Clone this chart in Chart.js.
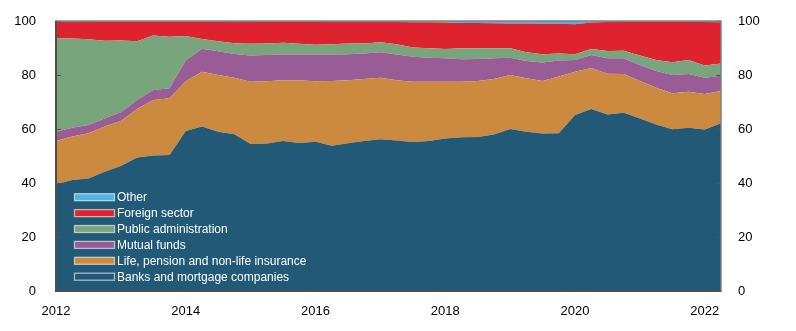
<!DOCTYPE html>
<html>
<head>
<meta charset="utf-8">
<script src="https://cdn.jsdelivr.net/npm/chart.js@4"></script>
<style>
  html, body { margin: 0; padding: 0; background: #fff; }
  #wrap { width: 796px; height: 331px; }
</style>
</head>
<body>
<div id="wrap"><canvas id="chartEierskap"></canvas></div>
<script>
// Quarterly observations, 2012 Q1 – 2022 Q2 (per cent of total)
const quarters = [];
for (let y = 2012; y <= 2022; y++) {
    for (let q = 0; q < 4; q++) {
        if (y === 2022 && q > 1) break;
        quarters.push(y + q * 0.25);
    }
}
const xTickYears = [2012, 2014, 2016, 2018, 2020, 2022];
const yTickValues = [0, 20, 40, 60, 80, 100];

const banks = [39.5, 41.1, 41.7, 44.2, 46.3, 49.4, 50.2, 50.4, 59.3, 60.9,
    59.0, 58.1, 54.4, 54.6, 55.6, 54.8, 55.3, 53.8, 54.7, 55.6,
    56.2, 55.7, 55.2, 55.6, 56.5, 56.9, 57.0, 58.0, 60.0, 59.0,
    58.3, 58.4, 65.2, 67.4, 65.4, 66.0, 63.9, 61.7, 59.9, 60.5,
    59.8, 62.1];
const insurance = [16.1, 16.1, 16.7, 16.7, 16.7, 18.0, 20.5, 21.0, 18.4, 20.3,
    21.0, 20.9, 23.1, 23.1, 22.5, 23.3, 22.4, 24.0, 23.4, 22.9,
    22.8, 22.4, 22.3, 21.9, 21.0, 20.6, 20.8, 20.5, 20.0, 19.8,
    19.5, 21.0, 16.0, 15.2, 15.1, 14.4, 13.9, 13.6, 13.3, 13.3,
    13.2, 12.0];
const mutualFunds = [3.4, 3.3, 3.1, 3.0, 3.2, 3.3, 3.7, 3.7, 7.7, 8.5,
    8.8, 8.8, 9.7, 9.7, 9.5, 9.5, 9.9, 9.8, 9.6, 9.5,
    9.4, 9.5, 9.3, 8.9, 8.7, 8.3, 8.1, 7.7, 6.4, 6.4,
    6.8, 6.0, 4.4, 4.8, 5.7, 5.8, 5.9, 6.2, 6.8, 6.6,
    6.0, 5.6];
const publicAdmin = [34.6, 33.0, 31.7, 28.8, 26.6, 21.8, 20.2, 19.1, 9.0, 3.6,
    3.7, 4.0, 4.4, 4.3, 4.3, 4.0, 3.6, 3.8, 4.0, 3.7,
    3.7, 3.8, 3.4, 3.5, 3.4, 4.1, 4.0, 3.7, 3.5, 3.2,
    3.1, 2.6, 2.1, 2.2, 2.7, 2.8, 3.5, 4.1, 4.7, 5.2,
    4.5, 4.6];
const foreignSector = [6.0, 6.1, 6.4, 7.0, 6.9, 7.2, 5.1, 5.5, 5.3, 6.4,
    7.1, 7.8, 8.0, 8.0, 7.8, 8.1, 8.4, 8.2, 7.9, 7.9,
    7.5, 8.2, 9.3, 9.6, 9.8, 9.4, 9.4, 9.3, 9.2, 10.7,
    11.3, 11.0, 11.1, 9.8, 10.7, 10.6, 12.5, 14.1, 15.0, 14.1,
    16.1, 15.2];
const other = [0.4, 0.4, 0.4, 0.3, 0.3, 0.3, 0.3, 0.3, 0.3, 0.3,
    0.4, 0.4, 0.4, 0.3, 0.3, 0.3, 0.4, 0.4, 0.4, 0.4,
    0.4, 0.4, 0.5, 0.5, 0.6, 0.7, 0.7, 0.8, 0.9, 0.9,
    1.0, 1.0, 1.2, 0.6, 0.4, 0.4, 0.3, 0.3, 0.3, 0.3,
    0.4, 0.5];

const seriesNames = ['Banks and mortgage companies', 'Life, pension and non-life insurance',
    'Mutual funds', 'Public administration', 'Foreign sector', 'Other'];
const seriesData = [banks, insurance, mutualFunds, publicAdmin, foreignSector, other];
const seriesColors = ['#225976', '#cc8a40', '#995c96', '#78a57c', '#de232e', '#50b4e1'];

const FONT = '"Liberation Sans", Arial, sans-serif';

const datasets = seriesData.map((vals, i) => ({
    label: seriesNames[i],
    data: vals.map((v, k) => ({ x: quarters[k], y: v })),
    backgroundColor: seriesColors[i],
    borderWidth: 0,
    pointRadius: 0,
    tension: 0,
    fill: i === 0 ? 'origin' : '-1'
}));

// frame, inward tick marks and legend inside the plot
const framePlugin = {
    id: 'framePlugin',
    afterDatasetsDraw(chart) {
        const { ctx, chartArea: a, scales } = chart;
        ctx.save();
        ctx.strokeStyle = '#4d5357';
        ctx.lineWidth = 1.2;
        yTickValues.forEach(v => {
            const y = Math.round(scales.y.getPixelForValue(v)) + 0.5;
            ctx.beginPath();
            ctx.moveTo(a.left, y); ctx.lineTo(a.left + 5, y);
            ctx.moveTo(a.right, y); ctx.lineTo(a.right - 5, y);
            ctx.stroke();
        });
        xTickYears.forEach(v => {
            const x = Math.round(scales.x.getPixelForValue(v)) + 0.5;
            ctx.beginPath();
            ctx.moveTo(x, a.bottom); ctx.lineTo(x, a.bottom - 4);
            ctx.stroke();
        });
        ctx.strokeStyle = '#7a8185';
        ctx.lineWidth = 1.5;
        ctx.strokeRect(a.left, a.top, a.right - a.left, a.bottom - a.top);
        ctx.strokeStyle = '#4a4f52';
        ctx.lineWidth = 2;
        ctx.beginPath();
        ctx.moveTo(a.left, a.top); ctx.lineTo(a.left, a.bottom); ctx.lineTo(a.right, a.bottom);
        ctx.stroke();

        // legend, reverse order, bottom-left inside plot
        ctx.font = '12px ' + FONT;
        ctx.textBaseline = 'middle';
        const n = seriesNames.length;
        for (let r = 0; r < n; r++) {
            const idx = n - 1 - r;
            const cy = a.bottom - 14.3 - (n - 1 - r) * 15.9;
            const bx = a.left + 18.5;
            ctx.fillStyle = seriesColors[idx];
            ctx.fillRect(bx, cy - 3.5, 40, 7);
            ctx.strokeStyle = 'rgba(255,255,255,0.6)';
            ctx.lineWidth = 1.3;
            ctx.strokeRect(bx, cy - 3.5, 40, 7);
            ctx.fillStyle = '#ffffff';
            ctx.fillText(seriesNames[idx], a.left + 61, cy + 0.5);
        }
        ctx.restore();
    }
};

new Chart(document.getElementById('chartEierskap'), {
    type: 'line',
    data: { datasets: datasets },
    plugins: [framePlugin],
    options: {
        responsive: true,
        maintainAspectRatio: false,
        animation: false,
        layout: { padding: { top: 0, left: 0, right: 0, bottom: 0 } },
        plugins: {
            legend: { display: false },
            tooltip: { enabled: false }
        },
        scales: {
            x: {
                type: 'linear',
                min: 2012,
                max: 2022.25,
                afterBuildTicks: axis => { axis.ticks = xTickYears.map(v => ({ value: v })); },
                afterFit: axis => { axis.height = 40; },
                ticks: {
                    color: '#000',
                    font: { family: FONT, size: 13 },
                    padding: 13,
                    maxRotation: 0,
                    callback: v => String(v)
                },
                grid: { display: false, drawTicks: false },
                border: { display: false }
            },
            y: {
                stacked: true,
                position: 'left',
                min: 0,
                max: 100,
                afterBuildTicks: axis => { axis.ticks = yTickValues.map(v => ({ value: v })); },
                afterFit: axis => { axis.width = 56; axis.paddingTop = 21; },
                ticks: {
                    color: '#000',
                    font: { family: FONT, size: 13 },
                    padding: 20
                },
                grid: { display: false, drawTicks: false },
                border: { display: false }
            },
            y2: {
                position: 'right',
                min: 0,
                max: 100,
                afterBuildTicks: axis => { axis.ticks = yTickValues.map(v => ({ value: v })); },
                afterFit: axis => { axis.width = 75; axis.paddingTop = 21; },
                ticks: {
                    color: '#000',
                    font: { family: FONT, size: 13 },
                    padding: 17
                },
                grid: { display: false, drawTicks: false },
                border: { display: false }
            }
        }
    }
});
</script>
</body>
</html>
